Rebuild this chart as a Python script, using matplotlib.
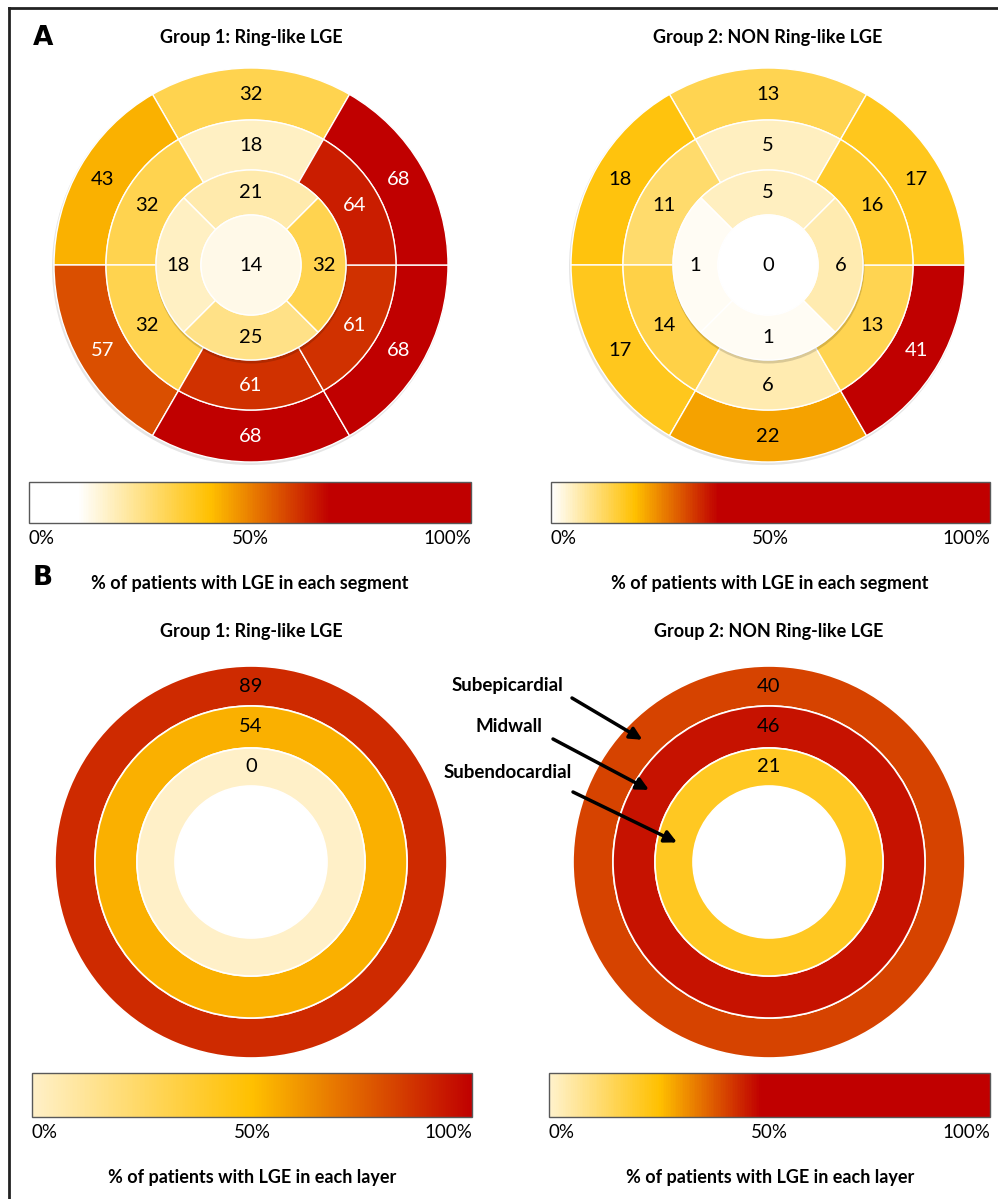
import numpy as np
import matplotlib
matplotlib.use('Agg')
import matplotlib.pyplot as plt
import matplotlib.colorbar as mcolorbar
from matplotlib.patches import Wedge, Circle
from matplotlib.colors import LinearSegmentedColormap, Normalize, to_rgb

plt.rcParams['font.family'] = ['Lato', 'DejaVu Sans']

W, H = 998, 1199

group_titles = ['Group 1: Ring-like LGE', 'Group 2: NON Ring-like LGE']

# panel A: % of patients with LGE per segment (17-segment model)
# basal / mid: anterior, anteroseptal, inferoseptal, inferior, inferolateral, anterolateral
basal_g1 = [32, 43, 57, 68, 68, 68]
mid_g1 = [18, 32, 32, 61, 61, 64]
# apical: anterior, septal, inferior, lateral
apical_g1 = [21, 18, 25, 32]
apex_g1 = 14

basal_g2 = [13, 18, 17, 22, 41, 17]
mid_g2 = [5, 11, 14, 6, 13, 16]
apical_g2 = [5, 1, 1, 6]
apex_g2 = 0

# panel B: % of patients with LGE per layer
layer_names = ['Subepicardial', 'Midwall', 'Subendocardial']
layer_g1 = [89, 54, 0]
layer_g2 = [40, 46, 21]

cbar_labels = ['0%', '50%', '100%']
caption_seg = '% of patients with LGE in each segment'
caption_layer = '% of patients with LGE in each layer'

# colour scales
cmap_a1 = LinearSegmentedColormap.from_list('a1', [(0, '#FFFFFF'), (0.11, '#FFFFFF'), (0.41, '#FFC000'),
                                                   (0.68, '#C00000'), (1, '#C00000')])
cmap_a2 = LinearSegmentedColormap.from_list('a2', [(0, '#FFFFFF'), (0.19, '#FFC000'),
                                                   (0.38, '#C00000'), (1, '#C00000')])
cmap_b1 = LinearSegmentedColormap.from_list('b1', [(0, '#FFF0C8'), (0.5, '#FFC000'), (1, '#C00000')])
cmap_b2 = LinearSegmentedColormap.from_list('b2', [(0, '#FFF2CC'), (0.25, '#FFC000'),
                                                   (0.48, '#C00000'), (1, '#C00000')])
norm = Normalize(0, 100)

NUM_FS = 14.5
BOLD_FS = 13


def txt_color(c):
    r, g, b = to_rgb(c)
    return 'white' if 0.299 * r + 0.587 * g + 0.114 * b < 0.45 else 'black'


def ax_at(cx, cy, half=200):
    ax = fig.add_axes([(cx - half) / W, 1 - (cy + half) / H, 2 * half / W, 2 * half / H])
    ax.set_xlim(-half, half)
    ax.set_ylim(-half, half)
    ax.set_aspect('equal')
    ax.axis('off')
    return ax


def ring(ax, vals, r_in, r_out, start, cmap):
    step = 360 / len(vals)
    for i, v in enumerate(vals):
        t1 = start + step * i
        fc = cmap(norm(v))
        ax.add_patch(Wedge((0, 0), r_out, t1, t1 + step, width=r_out - r_in,
                           fc=fc, ec='white', lw=1))
        a = np.deg2rad(t1 + step / 2)
        rm = (r_in + r_out) / 2
        ax.text(rm * np.cos(a), rm * np.sin(a), str(v), ha='center', va='center',
                fontsize=NUM_FS, color=txt_color(fc))


def bullseye(cx, cy, basal, mid, apical, apex, cmap):
    ax = ax_at(cx, cy)
    ax.add_patch(Circle((-1, -2), 198, fc='black', alpha=0.1, lw=0))
    ring(ax, basal, 145, 197, 60, cmap)
    ring(ax, mid, 95, 145, 60, cmap)
    ax.add_patch(Circle((0.5, -2.5), 96, fc='black', alpha=0.15, lw=0))
    ring(ax, apical, 50, 95, 45, cmap)
    fc = cmap(norm(apex))
    ax.add_patch(Circle((0, 0), 50, fc=fc, ec='white', lw=1))
    ax.text(0, 0, str(apex), ha='center', va='center', fontsize=NUM_FS, color=txt_color(fc))


def layers(cx, cy, vals, cmap):
    ax = ax_at(cx, cy)
    radii = [(156, 196), (114, 156), (76, 114)]
    for v, (r_in, r_out) in zip(vals, radii):
        ax.add_patch(Wedge((0, 0), r_out, 0, 360, width=r_out - r_in,
                           fc=cmap(norm(v)), ec='white', lw=1.2))
        ax.text(0, (r_in + r_out) / 2, str(v), ha='center', va='center', fontsize=NUM_FS, color='black')


def cbar(x0, x1, y0, y1, cmap):
    cax = fig.add_axes([x0 / W, 1 - y1 / H, (x1 - x0) / W, (y1 - y0) / H])
    cb = mcolorbar.ColorbarBase(cax, cmap=cmap, norm=norm, orientation='horizontal')
    cb.set_ticks([])
    cb.outline.set_edgecolor('#595959')
    cb.outline.set_linewidth(1)
    ty = y1 + 16
    for lab, frac, ha in zip(cbar_labels, [0, 0.5, 1], ['left', 'center', 'right']):
        ov.text(x0 + frac * (x1 - x0), ty, lab, ha=ha, va='center', fontsize=13.5)


fig = plt.figure(figsize=(W / 100, H / 100), dpi=100)

# overlay in pixel coordinates for text, arrows and frame
ov = fig.add_axes([0, 0, 1, 1])
ov.set_xlim(0, W)
ov.set_ylim(H, 0)
ov.axis('off')
ov.set_zorder(10)
ov.patch.set_visible(False)
ov.plot([9, W], [8, 8], color='#222222', lw=2)
ov.plot([9, 9], [8, H], color='#222222', lw=2)

# panel A
bullseye(251, 265, basal_g1, mid_g1, apical_g1, apex_g1, cmap_a1)
bullseye(768, 265, basal_g2, mid_g2, apical_g2, apex_g2, cmap_a2)
cbar(29, 471, 482, 523, cmap_a1)
cbar(551, 990, 482, 523, cmap_a2)

# panel B
layers(251, 862, layer_g1, cmap_b1)
layers(769, 862, layer_g2, cmap_b2)
cbar(32, 472, 1073, 1117, cmap_b1)
cbar(549, 990, 1073, 1117, cmap_b2)

ov.text(33, 38, 'A', fontsize=19, fontweight='bold', family='DejaVu Sans', ha='left', va='center')
ov.text(33, 578, 'B', fontsize=19, fontweight='bold', family='DejaVu Sans', ha='left', va='center')

for x, title in zip([251, 768], group_titles):
    ov.text(x, 37, title, ha='center', va='center', fontsize=BOLD_FS, fontweight='bold')
for x, title in zip([251, 769], group_titles):
    ov.text(x, 632, title, ha='center', va='center', fontsize=BOLD_FS, fontweight='bold')
for x in [250, 770]:
    ov.text(x, 583, caption_seg, ha='center', va='center', fontsize=BOLD_FS, fontweight='bold')
for x in [252, 770]:
    ov.text(x, 1177, caption_layer, ha='center', va='center', fontsize=BOLD_FS, fontweight='bold')

# layer labels with arrows into the group 2 rings
label_pos = [(507, 686), (509, 727), (508, 773)]
arrow_start = [(572, 698), (553, 739), (573, 792)]
arrow_geom = [(176, 136), (140, 149), (94, 168)]  # radius, angle of arrow tip
for name, (lx, ly), (sx, sy), (r, ang) in zip(layer_names, label_pos, arrow_start, arrow_geom):
    ov.text(lx, ly, name, ha='center', va='center', fontsize=BOLD_FS + 0.5, fontweight='bold')
    a = np.deg2rad(ang)
    tip = (769 + r * np.cos(a), 862 - r * np.sin(a))
    ov.annotate('', xy=tip, xytext=(sx, sy),
                arrowprops=dict(arrowstyle='-|>', color='black', lw=2.5, mutation_scale=18,
                                shrinkA=0, shrinkB=0))

fig.savefig('out.png', dpi=100)
